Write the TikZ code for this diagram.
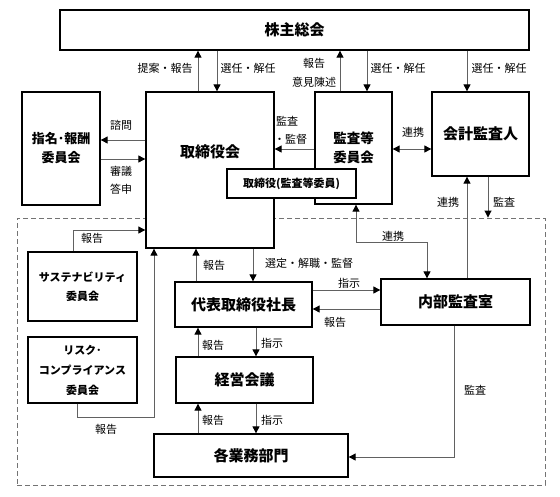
\documentclass[tikz,border=0pt]{standalone}
\usepackage{fontspec}
\setmainfont{Noto Sans CJK JP}
\usetikzlibrary{arrows.meta}
\begin{document}
\begin{tikzpicture}[x=1pt,y=-1pt,
  box/.style={draw=black,line width=1.3pt,fill=white,inner sep=0pt,align=center,font=\bfseries\fontsize{15}{19}\selectfont},
  btxt/.style={inner sep=0pt,align=center,font=\bfseries\fontsize{15}{19}\selectfont},
  lbl/.style={inner sep=0pt,font=\fontsize{11}{13}\selectfont},
  con/.style={draw=black!62,line width=0.9pt},
  tip/.style={},
  arr/.style={con,-{Triangle[length=7pt,width=7pt,color=black,fill=black]}},
  darr/.style={con,{Triangle[length=7pt,width=7pt,color=black,fill=black]}-{Triangle[length=7pt,width=7pt,color=black,fill=black]}},
  grpbox/.style={draw=black!55,line width=0.9pt,dash pattern=on 5pt off 3pt,inner sep=0pt},
]
\useasboundingbox (0,0) rectangle (560,496);
% helper coordinates
\foreach \x in {73,77,154,196,198,217,253,256,340,356,367,427,454,467,488}{\coordinate (X\x) at (\x,0);}
\foreach \y in {140,149,159,230,242,290,309,417,457}{\coordinate (Y\y) at (0,\y);}
% group
\node[grpbox,minimum width=528pt,minimum height=267pt] (grp) at (281,351.5) {};
% boxes
\node[box,minimum width=469pt,minimum height=40pt] (sh) at (294.5,30) {株主総会};
\node[box,minimum width=128pt,minimum height=156pt] (bod) at (210,170) {};
\node[btxt] (bodt) at (210,152) {取締役会};
\node[box,minimum width=78pt,minimum height=113pt,font=\bfseries\fontsize{13}{19}\selectfont] (nom) at (61,148.5) {指名･報酬\\委員会};
\node[box,minimum width=77pt,minimum height=112pt,font=\bfseries\fontsize{13.5}{19}\selectfont] (aud) at (353.5,148) {監査等\\委員会};
\node[box,minimum width=129pt,minimum height=29pt,font=\bfseries\fontsize{11}{13}\selectfont] (dir) at (291.5,183.5) {取締役(監査等委員)};
\node[box,minimum width=97pt,minimum height=84pt] (acc) at (480.5,134) {会計監査人};
\node[box,minimum width=109pt,minimum height=69pt,font=\bfseries\fontsize{11}{19}\selectfont] (sus) at (82.5,286.5) {サステナビリティ\\委員会};
\node[box,minimum width=109pt,minimum height=66pt,font=\bfseries\fontsize{11}{20}\selectfont] (risk) at (82.5,370) {リスク･\\コンプライアンス\\委員会};
\node[box,minimum width=137pt,minimum height=45pt] (pres) at (243.5,304.5) {代表取締役社長};
\node[box,minimum width=149pt,minimum height=46pt] (ia) at (455.5,302) {内部監査室};
\node[box,minimum width=137pt,minimum height=46pt] (mgmt) at (244.5,380) {経営会議};
\node[box,minimum width=194pt,minimum height=43pt] (dept) at (251,455.5) {各業務部門};
% connectors
\draw[arr] (X198 |- bod.north) -- (X198 |- sh.south);
\draw[arr] (X217 |- sh.south) -- (X217 |- bod.north);
\draw[arr] (X340 |- aud.north) -- (X340 |- sh.south);
\draw[arr] (X367 |- sh.south) -- (X367 |- aud.north);
\draw[arr] (X467 |- sh.south) -- (X467 |- acc.north);
\draw[arr] (bod.west |- Y140) -- (nom.east |- Y140);
\draw[arr] (nom.east |- Y159) -- (bod.west |- Y159);
\draw[arr] (aud.west |- Y149) -- (bod.east |- Y149);
\draw[darr] (aud.east |- Y149) -- (acc.west |- Y149);
\draw[arr] (X467 |- ia.north) -- (X467 |- acc.south);
\draw[arr] (X488 |- acc.south) -- (X488 |- grp.north);
\draw[darr] (X356 |- aud.south) -- (X356 |- Y242) -- (X427 |- Y242) -- (X427 |- ia.north);
\draw[arr] (X253 |- bod.south) -- (X253 |- pres.north);
\draw[arr] (X196 |- pres.north) -- (X196 |- bod.south);
\draw[arr] (pres.east |- Y290) -- (ia.west |- Y290);
\draw[arr] (ia.west |- Y309) -- (pres.east |- Y309);
\draw[arr] (X73 |- sus.north) -- (X73 |- Y230) -- (bod.west |- Y230);
\draw[arr] (X77 |- risk.south) -- (X77 |- Y417) -- (X154 |- Y417) -- (X154 |- bod.south);
\draw[arr] (X198 |- mgmt.north) -- (X198 |- pres.south);
\draw[arr] (X256 |- pres.south) -- (X256 |- mgmt.north);
\draw[arr] (X198 |- dept.north) -- (X198 |- mgmt.south);
\draw[arr] (X256 |- mgmt.south) -- (X256 |- dept.north);
\draw[arr] (X454 |- ia.south) -- (X454 |- Y457) -- (dept.east |- Y457);
% labels
\node[lbl] (l1) at (165,68) {提案・報告};
\node[lbl] (l2) at (248,68) {選任・解任};
\node[lbl] (l3) at (314,63) {報告};
\node[lbl] (l4) at (314,82) {意見陳述};
\node[lbl] (l5) at (398,68) {選任・解任};
\node[lbl] (l6) at (499,68) {選任・解任};
\node[lbl] (l7) at (121,125) {諮問};
\node[lbl] (l8) at (121,171) {審議};
\node[lbl] (l9) at (121,189) {答申};
\node[lbl,anchor=west] (l10) at (276,121) {監査};
\node[lbl,anchor=west] (l11) at (274,139) {・監督};
\node[lbl] (l12) at (413,132) {連携};
\node[lbl] (l13) at (448,202) {連携};
\node[lbl] (l14) at (504,202) {監査};
\node[lbl] (l15) at (393,236) {連携};
\node[lbl] (l16) at (92,238) {報告};
\node[lbl] (l17) at (214,265) {報告};
\node[lbl] (l18) at (309,263) {選定・解職・監督};
\node[lbl] (l19) at (349,283) {指示};
\node[lbl] (l20) at (335,322) {報告};
\node[lbl] (l21) at (213,345) {報告};
\node[lbl] (l22) at (272,343) {指示};
\node[lbl] (l23) at (213,420) {報告};
\node[lbl] (l24) at (272,420) {指示};
\node[lbl] (l25) at (475,390) {監査};
\node[lbl] (l26) at (106,429) {報告};
\end{tikzpicture}
\end{document}
